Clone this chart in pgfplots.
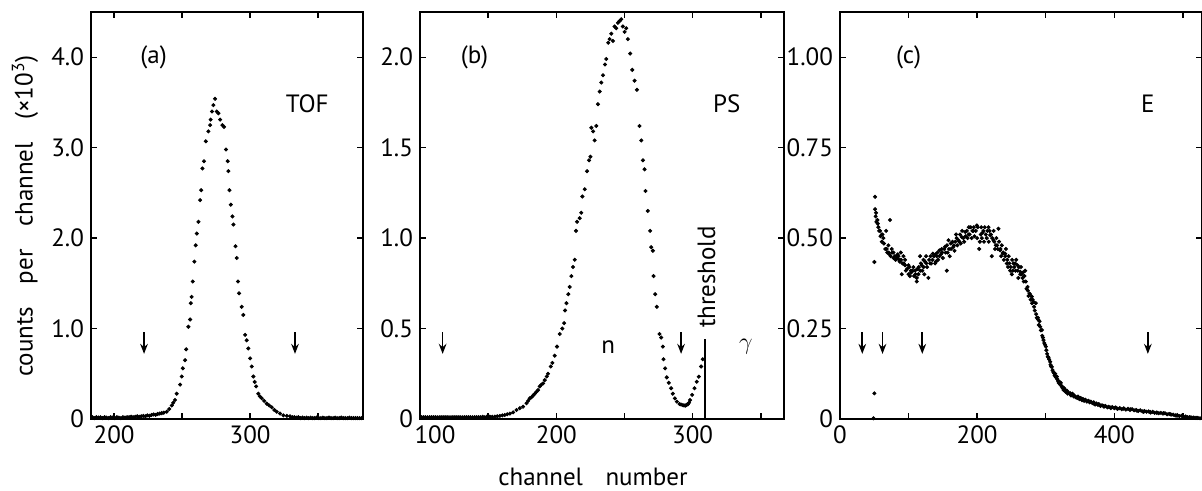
\documentclass[border=0pt]{standalone}
\usepackage{fontspec}
\setmainfont{PT Sans}
\usepackage{pgfplots}
\pgfplotsset{compat=1.18}
\usetikzlibrary{arrows.meta}

\pgfplotsset{
  spec/.style={
    scale only axis, height=203.5pt, ymin=0,
    axis line style={line width=0.9pt},
    tick style={black, line width=0.7pt},
    major tick length=3pt, minor tick length=3pt,
    tick align=inside, xtick pos=both, ytick pos=both,
    font=\fontsize{12.5}{14}\selectfont,
    /pgf/number format/assume math mode=true,
    clip=false,
  },
  dots/.style={only marks, mark=*, mark size=0.8pt, black},
}
\tikzset{arr/.style={line width=0.8pt, -{Stealth[length=5pt,width=3.8pt]}}}

\begin{document}
\begin{tikzpicture}
\useasboundingbox (0,0) rectangle (601pt,245.5pt);

% (a) TOF
\begin{axis}[spec, at={(45.5pt,36pt)}, anchor=south west, width=136pt,
  xmin=183, xmax=383, ymax=4.5,
  xtick={200,300}, minor xtick={250,350},
  ytick={0,1,2,3,4}, yticklabels={0,1.0,2.0,3.0,4.0}]
\addplot[dots] coordinates {
 (184,0.02) (185.5,0.01) (187,0.02) (188.5,0.015) (190,0.02) (191.5,0.01) (193,0.02)
 (194.5,0.015) (196,0.01) (197.5,0.02) (199,0.015) (200.5,0.01) (202,0.02) (203.5,0.015)
 (205,0.01) (206.5,0.02) (208,0.015) (209.5,0.02) (211,0.02) (212.5,0.025) (214,0.02)
 (215.5,0.025) (217,0.03) (218.5,0.025) (220,0.03) (221.5,0.035) (223,0.03) (224.5,0.04)
 (226,0.035) (227.5,0.045) (229,0.05) (230.5,0.045) (232,0.055) (233.5,0.06) (235,0.065)
 (236.5,0.07) (238.7,0.08) (240.5,0.11) (242.4,0.15) (243.5,0.18) (244.8,0.21) (246,0.28)
 (248.5,0.38) (249.7,0.47) (250.5,0.56) (252.2,0.65) (253,0.77) (254.6,1.02) (255.9,1.10)
 (256.4,1.28) (257,1.35) (257.8,1.52) (259,1.74) (260,1.92) (260.8,2.05) (262,2.18)
 (263.2,2.42) (264,2.53) (264.9,2.77) (266.1,2.85) (267.4,3.07) (269.3,3.18) (270.6,3.25)
 (271,3.31) (272,3.40) (273,3.47) (274.2,3.54) (275.5,3.40) (276.7,3.38) (278,3.31)
 (279.6,3.25) (280.8,3.23) (282.3,2.98) (283.5,2.85) (284,2.74) (284.8,2.53) (285.8,2.37)
 (287,2.24) (287.7,2.15) (289.2,1.91) (290.2,1.78) (291.1,1.52) (291.9,1.39) (293.8,1.24)
 (295,1.15) (296.3,0.93) (297.5,0.87) (298.7,0.78) (300,0.67) (301.2,0.58) (302.4,0.47)
 (303.4,0.41) (304.4,0.36) (306,0.28) (307.2,0.25) (308.5,0.23) (310.3,0.20) (312.2,0.17)
 (314,0.15) (315.9,0.13) (317.8,0.10) (319.6,0.08) (322,0.06) (324.5,0.04) (327,0.035)
 (329.4,0.03) (331,0.02) (332.5,0.02) (334,0.015) (335.5,0.02) (337,0.01) (338.5,0.015)
 (340,0.01) (341.5,0.015) (343,0.01) (344.5,0.015) (346,0.01) (347.5,0.01) (349,0.015)
 (350.5,0.01) (352,0.01) (353.5,0.015) (355,0.01) (356.5,0.01) (358,0.015) (359.5,0.01)
 (361,0.01) (362.5,0.015) (364,0.01) (365.5,0.01) (367,0.015) (368.5,0.01) (370,0.01)
 (371.5,0.01) (373,0.015) (374.5,0.01) (376,0.01) (377.5,0.01) (379,0.01) (380.5,0.01) (382,0.01)
};
\draw[arr] (axis cs:222,0.96) -- (axis cs:222,0.72);
\draw[arr] (axis cs:333,0.96) -- (axis cs:333,0.72);
\node at (axis cs:229,4.0) {(a)};
\node at (axis cs:342,3.49) {TOF};
\end{axis}

% (b) PS
\begin{axis}[spec, at={(210pt,36pt)}, anchor=south west, width=182pt,
  xmin=100, xmax=367, ymax=2.25,
  xtick={100,200,300}, xticklabels={\hspace{1.2em}100,200,300}, minor xtick={150,250,350},
  ytick={0,0.5,1,1.5,2}, yticklabels={0,0.5,1.0,1.5,2.0}]
\addplot[dots] coordinates {
 (101,0.01) (102.5,0.01) (104,0.01) (105.5,0.01) (107,0.01) (108.5,0.01) (110,0.01)
 (111.5,0.01) (113,0.01) (114.5,0.01) (116,0.01) (117.5,0.01) (119,0.01) (120.5,0.01)
 (122,0.01) (123.5,0.01) (125,0.01) (126.5,0.01) (128,0.01) (129.5,0.01) (131,0.01)
 (132.5,0.01) (134,0.01) (135.5,0.01) (137,0.01) (138.5,0.01) (140,0.01) (141.5,0.01)
 (143,0.01) (144.5,0.01) (146,0.012) (147.5,0.01) (149,0.012) (151.2,0.013) (153,0.012)
 (154.9,0.013) (156.7,0.015) (158.6,0.017) (160.4,0.02) (162.2,0.022) (164,0.026)
 (165.9,0.03) (168.3,0.037) (170.8,0.05) (173.2,0.06) (175.6,0.068) (178.1,0.087)
 (179.3,0.10) (180.5,0.114) (181.7,0.12) (183,0.13) (184.2,0.14) (185.4,0.15) (186.6,0.16)
 (187.8,0.18) (189,0.19) (190.3,0.197) (191.5,0.215) (193,0.235) (193.9,0.25) (195.9,0.29)
 (197.1,0.31) (198.8,0.35) (200.5,0.40) (202.5,0.47) (204.4,0.50) (205.7,0.53) (206.4,0.60)
 (207.4,0.64) (208.8,0.69) (209.8,0.73) (211,0.79) (212.2,0.84) (213.5,0.88) (214.4,1.04)
 (215.2,1.09) (217.1,1.11) (218.3,1.14) (219.1,1.23) (220.8,1.27) (222.5,1.37) (224,1.43)
 (225,1.45) (225.7,1.61) (227,1.59) (228.1,1.54) (229.3,1.62) (230.5,1.74) (231.8,1.81)
 (233,1.86) (234.2,1.90) (235.7,1.96) (236.6,1.99) (238.1,2.08) (239.1,2.10) (240.3,2.13)
 (241.5,2.09) (242.7,2.17) (243.9,2.16) (245.2,2.19) (246.4,2.20) (247.6,2.21) (248.8,2.17)
 (250.1,2.14) (251.3,2.16) (252.5,2.10) (254.2,2.02) (255.7,1.93) (257.4,1.87) (259.1,1.82)
 (261,1.62) (262.3,1.54) (263.5,1.43) (264.7,1.38) (265.4,1.26) (267.1,1.15) (268.8,1.04)
 (269.6,0.95) (270.8,0.93) (271.3,0.79) (272.5,0.69) (273.7,0.62) (275.7,0.47) (276.9,0.45)
 (278.1,0.40) (278.6,0.33) (279.8,0.28) (281,0.23) (282.5,0.20) (284.2,0.17) (285.4,0.14)
 (286.9,0.114) (288.4,0.096) (290.3,0.083) (291.5,0.08) (292.8,0.077) (293.7,0.075)
 (294.7,0.074) (295.5,0.078) (296.4,0.081) (297.3,0.09) (298.1,0.105) (299.6,0.133)
 (301.3,0.17) (303,0.206) (304.5,0.234) (306.2,0.29) (307.4,0.33)
};
\draw[line width=0.9pt] (axis cs:309.3,0) -- (axis cs:309.3,0.44);
\node[rotate=90, anchor=west, inner sep=1pt] at (axis cs:310.2,0.49) {threshold};
\draw[arr] (axis cs:116.6,0.48) -- (axis cs:116.6,0.36);
\draw[arr] (axis cs:291.5,0.48) -- (axis cs:291.5,0.36);
\node at (axis cs:238,0.40) {n};
\node at (axis cs:339,0.40) {$\gamma$};
\node at (axis cs:140,2.0) {(b)};
\node at (axis cs:325,1.745) {PS};
\end{axis}

% (c) E
\begin{axis}[spec, at={(420pt,36pt)}, anchor=south west, width=181pt,
  xmin=0, xmax=528, ymax=1.125,
  xtick={0,200,400}, minor xtick={100,300,500},
  ytick={0,0.25,0.5,0.75,1}, yticklabels={0,0.25,0.50,0.75,1.00}]
\addplot[dots] coordinates {
 (48.7,0.002) (50.1,0.071) (50.1,0.434) (51.1,0.614) (51.1,0.58) (52.6,0.57) (54.5,0.55)
 (56,0.53) (58.4,0.52) (60.8,0.51) (63.3,0.50) (67.2,0.52) (73,0.55) (70.6,0.48) (75.4,0.47)
 (77.9,0.46) (82.7,0.45) (85.2,0.45) (88.6,0.46) (92.5,0.45) (94.9,0.44) (99.8,0.425)
 (90,0.40) (103.2,0.41) (107,0.42) (109.5,0.41) (111.9,0.38) (114.3,0.40) (116.8,0.45)
 (119.2,0.425) (121.7,0.44) (125.5,0.45) (128.9,0.39) (131.4,0.43) (135.3,0.457)
 (138.7,0.43) (141.1,0.45) (145,0.466) (148.4,0.47) (153.3,0.476) (155.7,0.41) (158.2,0.494)
 (161.5,0.485) (165.4,0.476) (169.3,0.51) (172.7,0.494) (177.6,0.503) (182.5,0.517)
 (187.3,0.51) (190.7,0.53) (194.6,0.52) (199.5,0.535) (202.9,0.47) (205.3,0.51) (209.2,0.52)
 (212.6,0.51) (216.5,0.53) (219,0.508) (221.4,0.45) (223.8,0.494) (227.2,0.48) (231.1,0.526)
 (233.6,0.466) (237.5,0.457) (240.9,0.457) (243.3,0.43) (248.2,0.41) (250.6,0.40)
 (255.5,0.43) (258.9,0.425) (262.8,0.407) (266.2,0.39) (270.1,0.41) (273.5,0.365)
 (276.4,0.347) (279.8,0.338) (282.2,0.324) (285.6,0.32) (288.5,0.28) (291,0.27)
 (294.4,0.246) (296.8,0.218) (300.2,0.20) (303.2,0.172) (306.6,0.158) (309,0.144)
 (312.4,0.126) (316.3,0.117) (320.2,0.103) (323.6,0.089) (327,0.085) (330.9,0.075)
 (335.8,0.071) (340.6,0.066) (345.5,0.06) (350.4,0.057) (355.2,0.054) (362.5,0.05)
 (369.8,0.043) (377.1,0.041) (384.4,0.036) (394.1,0.032) (403.9,0.029) (413.6,0.029)
 (423.3,0.027) (433.1,0.023) (442.8,0.02) (452.5,0.019) (462.3,0.017) (472,0.016)
 (481.7,0.013) (491.5,0.009) (501.2,0.006) (510.9,0.004) (520.6,0.003)
 (52,0.56) (53,0.545) (55,0.54) (57,0.52) (59,0.505) (61,0.49) (62,0.51) (64,0.485) (66,0.47)
 (68,0.47) (69,0.46) (71,0.46) (72,0.455) (74,0.45) (76,0.46) (78,0.445) (80,0.45) (81,0.44)
 (83,0.445) (84,0.455) (86,0.44) (87,0.435) (89,0.44) (91,0.43) (93,0.43) (95,0.425)
 (96,0.41) (98,0.415) (100,0.40) (101,0.42) (102,0.395) (104,0.405) (106,0.41) (108,0.395)
 (110,0.40) (112,0.39) (113,0.415) (115,0.42) (117,0.41) (118,0.43) (120,0.41) (122,0.42)
 (123,0.40) (124,0.435) (126,0.43) (127,0.42) (130,0.44) (132,0.45) (133,0.43) (135,0.44)
 (137,0.45) (139,0.455) (140,0.435) (142,0.46) (143,0.44) (145,0.45) (147,0.455) (149,0.46)
 (150,0.445) (152,0.47) (154,0.46) (156,0.48) (157,0.46) (159,0.47) (160,0.45) (162,0.47)
 (164,0.49) (166,0.48) (167,0.465) (168,0.49) (170,0.50) (171,0.48) (174,0.49) (175,0.51)
 (176,0.485) (178,0.52) (180,0.50) (181,0.49) (183,0.505) (185,0.52) (186,0.50) (188,0.53)
 (189,0.51) (192,0.50) (193,0.52) (195,0.53) (196,0.505) (198,0.52) (200,0.50) (201,0.53)
 (204,0.49) (206,0.53) (207,0.50) (208,0.515) (210,0.49) (211,0.53) (214,0.50) (215,0.52)
 (217,0.49) (218,0.52) (220,0.51) (222,0.50) (224,0.52) (225,0.49) (226,0.47) (228,0.50)
 (229,0.48) (230,0.47) (232,0.49) (234,0.47) (235,0.45) (236,0.48) (238,0.46) (239,0.44)
 (241,0.45) (242,0.47) (244,0.44) (245,0.42) (246,0.45) (247,0.43) (249,0.42) (251,0.44)
 (252,0.41) (253,0.43) (254,0.42) (256,0.41) (257,0.44) (259,0.41) (260,0.39) (261,0.42)
 (263,0.40) (264,0.42) (265,0.40) (267,0.405) (268,0.38) (269,0.395) (271,0.38) (272,0.36)
 (274,0.355) (275,0.34) (277,0.345) (278,0.33) (280,0.32) (281,0.33) (283,0.31) (284,0.30)
 (286,0.29) (287,0.28) (289,0.275) (290,0.26) (292,0.255) (293,0.245) (295,0.23)
 (296,0.225) (298,0.21) (299,0.205) (301,0.19) (302,0.18) (304,0.17) (305,0.165) (307,0.15)
 (308,0.145) (310,0.135) (311,0.13) (313,0.12) (314,0.125) (315,0.115) (317,0.11)
 (318,0.105) (319,0.10) (321,0.095) (322,0.1) (324,0.09) (325,0.085) (326,0.08) (328,0.082)
 (329,0.075) (331,0.078) (332,0.07) (334,0.072) (336,0.068) (337,0.065) (339,0.07)
 (341,0.062) (342,0.064) (344,0.06) (346,0.058) (347,0.062) (349,0.055) (351,0.058)
 (353,0.052) (354,0.055) (356,0.05) (358,0.053) (360,0.048) (362,0.05) (364,0.046)
 (366,0.048) (368,0.044) (370,0.046) (372,0.04) (374,0.043) (376,0.039) (378,0.04)
 (380,0.036) (382,0.038) (385,0.034) (387,0.036) (390,0.032) (392,0.034) (395,0.03)
 (397,0.033) (400,0.03) (402,0.032) (405,0.028) (408,0.03) (411,0.027) (414,0.029)
 (417,0.026) (420,0.028) (423,0.025) (426,0.027) (429,0.024) (432,0.025) (435,0.022)
 (438,0.024) (441,0.021) (444,0.022) (447,0.02) (450,0.021) (453,0.018) (456,0.02)
 (459,0.017) (462,0.018) (465,0.016) (468,0.017) (471,0.015) (474,0.016) (477,0.013)
 (480,0.014) (483,0.012) (486,0.012) (489,0.01) (492,0.011) (495,0.008) (498,0.009)
 (501,0.006) (504,0.007) (507,0.005) (510,0.005) (513,0.004) (516,0.004) (519,0.003)
 (522,0.003) (525,0.002)
};
\draw[arr] (axis cs:32.5,0.24) -- (axis cs:32.5,0.18);
\draw[arr] (axis cs:62,0.24) -- (axis cs:62,0.18);
\draw[arr] (axis cs:120,0.24) -- (axis cs:120,0.18);
\draw[arr] (axis cs:449,0.24) -- (axis cs:449,0.18);
\node at (axis cs:100,1.0) {(c)};
\node at (axis cs:449,0.87) {E};
\end{axis}

\node[rotate=90, font=\fontsize{12.5}{14}\selectfont] at (12.5pt,137.5pt)
  {counts\hspace{0.9em}per\hspace{0.9em}channel\hspace{0.9em}(×10\textsuperscript{3})};
\node[font=\fontsize{12.5}{14}\selectfont] at (296.5pt,7pt) {channel\hspace{0.9em}number};
\end{tikzpicture}
\end{document}
